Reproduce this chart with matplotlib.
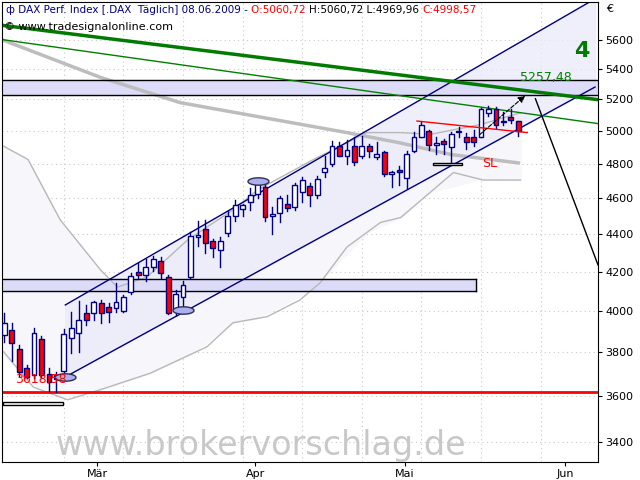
import numpy as np
import matplotlib
matplotlib.use("Agg")
import matplotlib.pyplot as plt
from matplotlib.path import Path
from matplotlib.transforms import IdentityTransform
from matplotlib.ticker import FixedLocator, NullLocator

# ---------------- data ----------------
opens = [3883, 3907, 3815, 3727, 3695, 3863, 3700, 3677, 3714, 3868,
         3893, 3990, 3990, 4040, 4020, 4015, 4000, 4095, 4200, 4180,
         4225, 4255, 4170, 4005, 4070, 4170, 4385, 4430, 4360, 4315,
         4405, 4500, 4540, 4578, 4624, 4665, 4500, 4515, 4570, 4550,
         4635, 4670, 4618, 4753, 4800, 4905, 4850, 4905, 4850, 4910,
         4840, 4870, 4740, 4765, 4715, 4880, 4965, 5000, 4915, 4937,
         4900, 4995, 4960, 4965, 4965, 5110, 5140, 5058, 5085, 5060.72]
highs = [3990, 3941, 3834, 3741, 3917, 3878, 3727, 3709, 3912, 3995,
         4050, 4030, 4050, 4055, 4040, 4140, 4080, 4195, 4245, 4265,
         4280, 4275, 4180, 4105, 4150, 4410, 4470, 4475, 4375, 4385,
         4530, 4590, 4570, 4660, 4700, 4683, 4550, 4612, 4618, 4690,
         4724, 4690, 4730, 4846, 4937, 4930, 4943, 4960, 4966, 4920,
         4930, 4880, 4760, 4790, 4875, 4995, 5058, 5005, 4960, 4950,
         4995, 5025, 4990, 5005, 5142, 5160, 5148, 5120, 5140, 5060.72]
lows = [3849, 3761, 3691, 3682, 3682, 3682, 3623, 3618.58, 3686, 3795,
        3800, 3932, 3956, 3941, 3946, 3995, 3995, 4085, 4165, 4150,
        4205, 4165, 3985, 3980, 4005, 4165, 4335, 4300, 4275, 4225,
        4390, 4470, 4500, 4535, 4600, 4470, 4400, 4465, 4530, 4535,
        4578, 4555, 4600, 4724, 4790, 4845, 4800, 4795, 4835, 4840,
        4830, 4730, 4665, 4675, 4660, 4870, 4960, 4885, 4860, 4860,
        4805, 4965, 4890, 4910, 4960, 5095, 5020, 5040, 5050, 4969.96]
closes = [3941, 3844, 3709, 3686, 3893, 3695, 3664, 3695, 3888, 3917,
          3956, 3956, 4045, 3990, 3995, 4045, 4070, 4175, 4185, 4225,
          4265, 4195, 3990, 4085, 4130, 4390, 4395, 4350, 4325, 4365,
          4500, 4560, 4560, 4618, 4683, 4495, 4510, 4600, 4545, 4677,
          4706, 4618, 4712, 4776, 4910, 4850, 4885, 4810, 4910, 4875,
          4857, 4740, 4750, 4750, 4857, 4960, 5040, 4915, 4925, 4920,
          4980, 5000, 4930, 4930, 5135, 5135, 5040, 5065, 5070, 4998.57]

# 200-day average
ma_idx = [0, 13, 23.6, 37, 46, 53, 60, 69]
ma_val = [5593, 5342, 5179, 5065, 4990, 4928, 4856, 4806]

# bollinger bands
bbu_idx = [-0.5, 3.2, 7.5, 12.9, 15.2, 19.2, 24.6, 30.7, 34, 41.5, 48.7, 53.2, 57.2, 63.9, 69.3]
bbu_val = [4917, 4826, 4479, 4210, 4120, 4173, 4368, 4534, 4648, 4826, 4990, 4990, 4979, 5040, 5114]
bbl_idx = [-0.1, 3.9, 8.5, 12.9, 19.6, 27.2, 30.7, 35.3, 39.7, 42.4, 46, 50.5, 53.2, 60.3, 64.3, 69.3]
bbl_val = [3803, 3640, 3583, 3628, 3703, 3826, 3942, 3972, 4055, 4142, 4330, 4464, 4491, 4749, 4705, 4705]

# trend channel (start/end index, price)
chan_idx = [8.2, 79.3]
chan_upper = [4030, 5890]
chan_lower = [3686, 5280]

green_thick = [5700, 5198]
green_thin = [5600, 5046]
trend_idx = [-0.3, 79.7]

band_hi = [5325, 5230]
band_lo = [4160, 4100]
low_level = 3618.58
target = 5257.48

res_idx = [55.4, 70.2]
res_val = [5062, 4990]
arrow_idx = [63.5, 70.2]
arrow_val = [4965, 5235]
down_idx = [71.3, 79.7]
down_val = [5204, 4235]

pivot_idx = [8.2, 24.0, 34.1]
pivot_val = [3686, 4005, 4700]

month_pos = [12.5, 33.7, 53.8, 75.3]
month_lab = ["Mär", "Apr", "Mai", "Jun"]
yticks = [3400, 3600, 3800, 4000, 4200, 4400, 4600, 4800, 5000, 5200, 5400, 5600]

header = [("\u0444 DAX Perf. Index [.DAX  Täglich] 08.06.2009 - ", "#000080"),
          ("O:5060,72 ", "red"),
          ("H:5060,72 L:4969,96 ", "black"),
          ("C:4998,57", "red")]

navy = "#000080"

# ---------------- figure ----------------
fig = plt.figure(figsize=(6.4, 4.8), dpi=100)
ax = fig.add_axes([2 / 640, 18 / 480, 596 / 640, 460 / 480])
ax.set_yscale("log")
ax.set_xlim(-0.3, 79.7)
ax.set_ylim(3317, 5867)

ax.yaxis.tick_right()
ax.yaxis.set_major_locator(FixedLocator(yticks))
ax.yaxis.set_minor_locator(NullLocator())
ax.set_yticklabels([str(v) for v in yticks], fontsize=8)
ax.set_xticks(month_pos)
ax.set_xticklabels(month_lab, fontsize=8)
ax.tick_params(length=3, pad=2)

for y in yticks:
    ax.axhline(y, color="#c8c8c8", lw=0.8, ls=(0, (1, 3)), zorder=0)
for xi in range(8, 80, 8):
    ax.axvline(xi, color="#c8c8c8", lw=0.8, ls=(0, (1, 3)), zorder=0)

# bands and channel
ax.fill_between(bbu_idx, bbu_val, np.interp(bbu_idx, bbl_idx, bbl_val),
                color="#f6f6fb", zorder=0.5)
ax.fill_between(chan_idx, chan_upper, chan_lower, color="#ebebfa", alpha=0.8, zorder=0.6)
ax.plot(chan_idx, chan_upper, color=navy, lw=1, zorder=2)
ax.plot(chan_idx, chan_lower, color=navy, lw=1, zorder=2)

ax.fill_between([-0.3, 79.7], band_hi[1], band_hi[0], color="#dcdcf8", zorder=0.7)
ax.axhline(band_hi[0], color="black", lw=1, zorder=2)
ax.axhline(band_hi[1], color="black", lw=1, zorder=2)
ax.fill_between([-0.3, 63.3], band_lo[1], band_lo[0], color="#dcdcf8", zorder=0.7)
ax.plot([-0.3, 63.3], [band_lo[0]] * 2, color="black", lw=1, zorder=2)
ax.plot([-0.3, 63.3], [band_lo[1]] * 2, color="black", lw=1, zorder=2)
ax.plot([63.3, 63.3], band_lo, color="black", lw=1, zorder=2)

ax.plot(bbu_idx, bbu_val, color="#b8b8b8", lw=1, zorder=1)
ax.plot(bbl_idx, bbl_val, color="#b8b8b8", lw=1, zorder=1)
ax.plot(ma_idx, ma_val, color="#bdbdbd", lw=2.5, zorder=1)

ax.plot(trend_idx, green_thick, color="#007a00", lw=2.5, zorder=2)
ax.plot(trend_idx, green_thin, color="#008000", lw=1, zorder=2)
ax.axhline(low_level, color="red", lw=2, zorder=2)

# candles
for i in range(len(opens)):
    o, h, l, c = opens[i], highs[i], lows[i], closes[i]
    ax.plot([i, i], [l, h], color=navy, lw=1, zorder=3)
    fc = "white" if c >= o else "red"
    ax.bar(i, abs(c - o) if c != o else 3, bottom=min(o, c), width=0.65,
           color=fc, edgecolor=navy, lw=1, zorder=4)

# annotations
ax.plot(res_idx, res_val, color="red", lw=1, zorder=5)
ax.annotate("", xy=(arrow_idx[1], arrow_val[1]), xytext=(arrow_idx[0], arrow_val[0]),
            arrowprops=dict(arrowstyle="-|>", color="black", lw=0.8, ls="--"), zorder=5)
ax.plot(down_idx, down_val, color="black", lw=1, zorder=5)

t = np.linspace(0, 2 * np.pi, 40)
ell = Path(np.column_stack([np.cos(t), 0.35 * np.sin(t)]))
ax.scatter(pivot_idx, pivot_val, marker=ell, s=230, facecolor="#aab0f0",
           edgecolor="#303050", lw=1, zorder=6)

ax.bar(59.5, 12, bottom=4793, width=4.0, color="white", edgecolor="black", lw=1, zorder=6)
ax.text(64.2, 4800, "SL", color="red", fontsize=9, va="center")
ax.bar(3.9, 10, bottom=3562, width=8.0, color="white", edgecolor="black", lw=1, zorder=6)
ax.text(1.5, 3618.58 * 1.007, "3618,58", color="red", fontsize=9, va="bottom", zorder=7)
ax.text(69.2, target * 1.008, "5257,48", color="#008000", fontsize=9, va="bottom", zorder=7)
ax.text(77.5, 5520, "4", color="#007a00", fontsize=16, fontweight="bold", ha="center", va="center")

ax.text(0.09, 0.035, "www.brokervorschlag.de", transform=ax.transAxes, color="#c8c8c8",
        fontsize=24, ha="left", va="center", zorder=7)

# header line: pieces placed one after another using their rendered widths
fig.canvas.draw()
r = fig.canvas.get_renderer()
x_px, y_px = 6, 480 - 10
for txt, col in header:
    tx = fig.text(x_px, y_px, txt, color=col, fontsize=7.5, va="center",
                  transform=IdentityTransform())
    x_px = tx.get_window_extent(r).x1

fig.text(4 / 640, 1 - 27 / 480, "© www.tradesignalonline.com", color="black", fontsize=8, va="center")
fig.text(606 / 640, 1 - 9 / 480, "€", color="black", fontsize=8, va="center")

fig.savefig("out.png", dpi=100)
